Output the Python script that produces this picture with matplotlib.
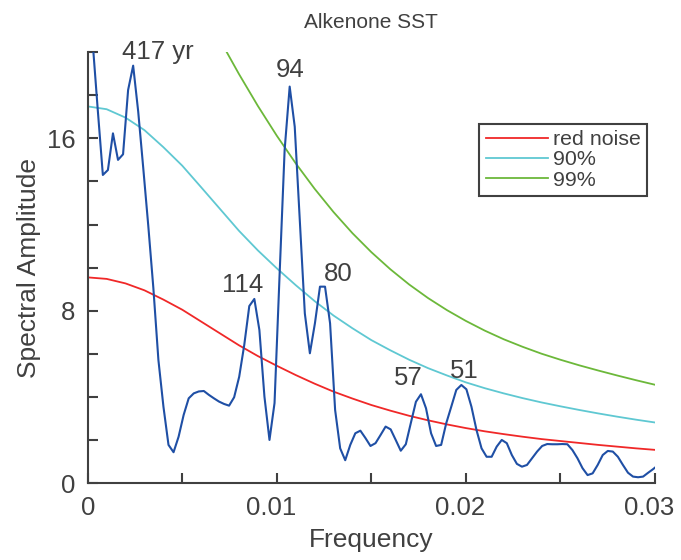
import numpy as np
import matplotlib
matplotlib.use('Agg')
import matplotlib.pyplot as plt
from matplotlib.transforms import ScaledTranslation

plt.rcParams['font.family'] = ['Liberation Sans', 'DejaVu Sans']

# periodogram frequency step (cycles per year)
df = 1 / 3745

amplitude = [
    20.4, 17.29, 14.3, 14.53, 16.23, 15.0, 15.26, 18.24, 19.37, 17.24,
    14.62, 11.93, 9.06, 5.72, 3.55, 1.78, 1.44, 2.16, 3.17, 3.94,
    4.17, 4.26, 4.28, 4.1, 3.94, 3.79, 3.68, 3.6, 3.99, 4.94,
    6.41, 8.22, 8.55, 7.11, 4.02, 2.01, 3.72, 9.66, 15.46, 18.4,
    16.54, 12.21, 7.88, 6.03, 7.42, 9.12, 9.12, 7.42, 3.4, 1.62,
    1.07, 1.78, 2.32, 2.44, 2.1, 1.73, 1.86, 2.24, 2.63, 2.5,
    2.01, 1.51, 1.81, 2.8, 3.78, 4.13, 3.48, 2.32, 1.73, 1.78,
    2.78, 3.55, 4.33, 4.56, 4.36, 3.55, 2.47, 1.62, 1.23, 1.23,
    1.7, 2.01, 1.86, 1.31, 0.9, 0.77, 0.85, 1.16, 1.47, 1.73,
    1.82, 1.81, 1.81, 1.82, 1.81, 1.54, 1.16, 0.7, 0.38, 0.46,
    0.85, 1.31, 1.5, 1.47, 1.23, 0.85, 0.49, 0.31, 0.28, 0.31,
    0.49, 0.66, 0.85,
]
freq = df * np.arange(1, len(amplitude) + 1)

curve_freq = np.linspace(0, 0.03, 31)
red_noise = [
    9.55, 9.48, 9.27, 8.95, 8.52, 8.05, 7.5, 6.95, 6.4, 5.9,
    5.45, 5.02, 4.62, 4.25, 3.93, 3.63, 3.37, 3.13, 2.92, 2.73,
    2.56, 2.41, 2.28, 2.16, 2.05, 1.96, 1.87, 1.78, 1.70, 1.62,
    1.55,
]
conf90 = [
    17.48, 17.35, 16.96, 16.38, 15.59, 14.73, 13.73, 12.72, 11.71, 10.8,
    9.97, 9.19, 8.45, 7.78, 7.19, 6.64, 6.17, 5.73, 5.34, 5.0,
    4.68, 4.41, 4.17, 3.95, 3.75, 3.57, 3.4, 3.24, 3.09, 2.95,
    2.82,
]
conf99 = [
    22.2, 20.55, 18.98, 17.5, 16.12, 14.84, 13.66, 12.58, 11.6, 10.72,
    9.93, 9.22, 8.59, 8.03, 7.53, 7.08, 6.68, 6.33, 6.01, 5.73,
    5.47, 5.23, 5.0, 4.78, 4.57,
]
conf99_freq = curve_freq[6:]

peak_labels = ['417 yr', '94', '114', '80', '57', '51']
peak_freq = [0.00369, 0.0107, 0.00819, 0.01325, 0.01693, 0.01991]
peak_amp = [19.67, 18.86, 8.89, 9.4, 4.56, 4.87]

grey = '#404040'

fig = plt.figure(figsize=(6.81, 5.6), dpi=100)
ax = fig.add_axes([0.1288, 0.137, 0.833, 0.770])

ax.plot(freq, amplitude, color='#1f4fa5', lw=1.5, zorder=3)
l1, = ax.plot(curve_freq, red_noise, color='#f02828', lw=1.3, label='red noise')
l2, = ax.plot(curve_freq, conf90, color='#5fc8d2', lw=1.3, label='90%')
l3, = ax.plot(conf99_freq, conf99, color='#6cb83a', lw=1.3, label='99%')

for lab, fx, fy in zip(peak_labels, peak_freq, peak_amp):
    ax.text(fx, fy, lab, ha='center', va='baseline', fontsize=18.5,
            color=grey, clip_on=False)

ax.set_xlim(0, 0.03)
ax.set_ylim(0, 20)

ax.set_xticks(np.arange(0, 0.0301, 0.005))
ax.set_xticklabels(['0', '', '0.01', '', '0.02', '', '0.03'])
ax.set_yticks(np.arange(0, 21, 2))
ax.set_yticklabels(['0', '', '', '', '8', '', '', '', '16', '', ''])

for side in ['top', 'right']:
    ax.spines[side].set_visible(False)
for side in ['left', 'bottom']:
    ax.spines[side].set_color(grey)
    ax.spines[side].set_linewidth(1.5)

ax.tick_params(axis='both', direction='in', length=7, width=1.5,
               colors=grey, labelsize=18.5, labelcolor=grey)
ax.tick_params(axis='y', pad=9)
ax.tick_params(axis='x', pad=9)

# decimal labels sit a little left of their ticks in the original
shift = ScaledTranslation(-6 / 100, 0, fig.dpi_scale_trans)
for lbl in ax.get_xticklabels()[1:]:
    lbl.set_transform(lbl.get_transform() + shift)

ax.set_xlabel('Frequency', fontsize=19, color=grey, labelpad=6)
ax.set_ylabel('Spectral Amplitude', fontsize=19, color=grey, labelpad=4)
ax.set_title('Alkenone SST', fontsize=15, color=grey, pad=17)

leg = fig.legend(handles=[l1, l2, l3], loc='upper right',
                 bbox_to_anchor=(0.9505, 0.7786), frameon=True,
                 fancybox=False, framealpha=1, edgecolor=grey,
                 fontsize=15.4, handlelength=2.9, handletextpad=0.25,
                 labelspacing=0.05, borderpad=0.3, borderaxespad=0)
leg.get_frame().set_linewidth(1.5)
for t in leg.get_texts():
    t.set_color(grey)

fig.savefig('out.png', dpi=100)
